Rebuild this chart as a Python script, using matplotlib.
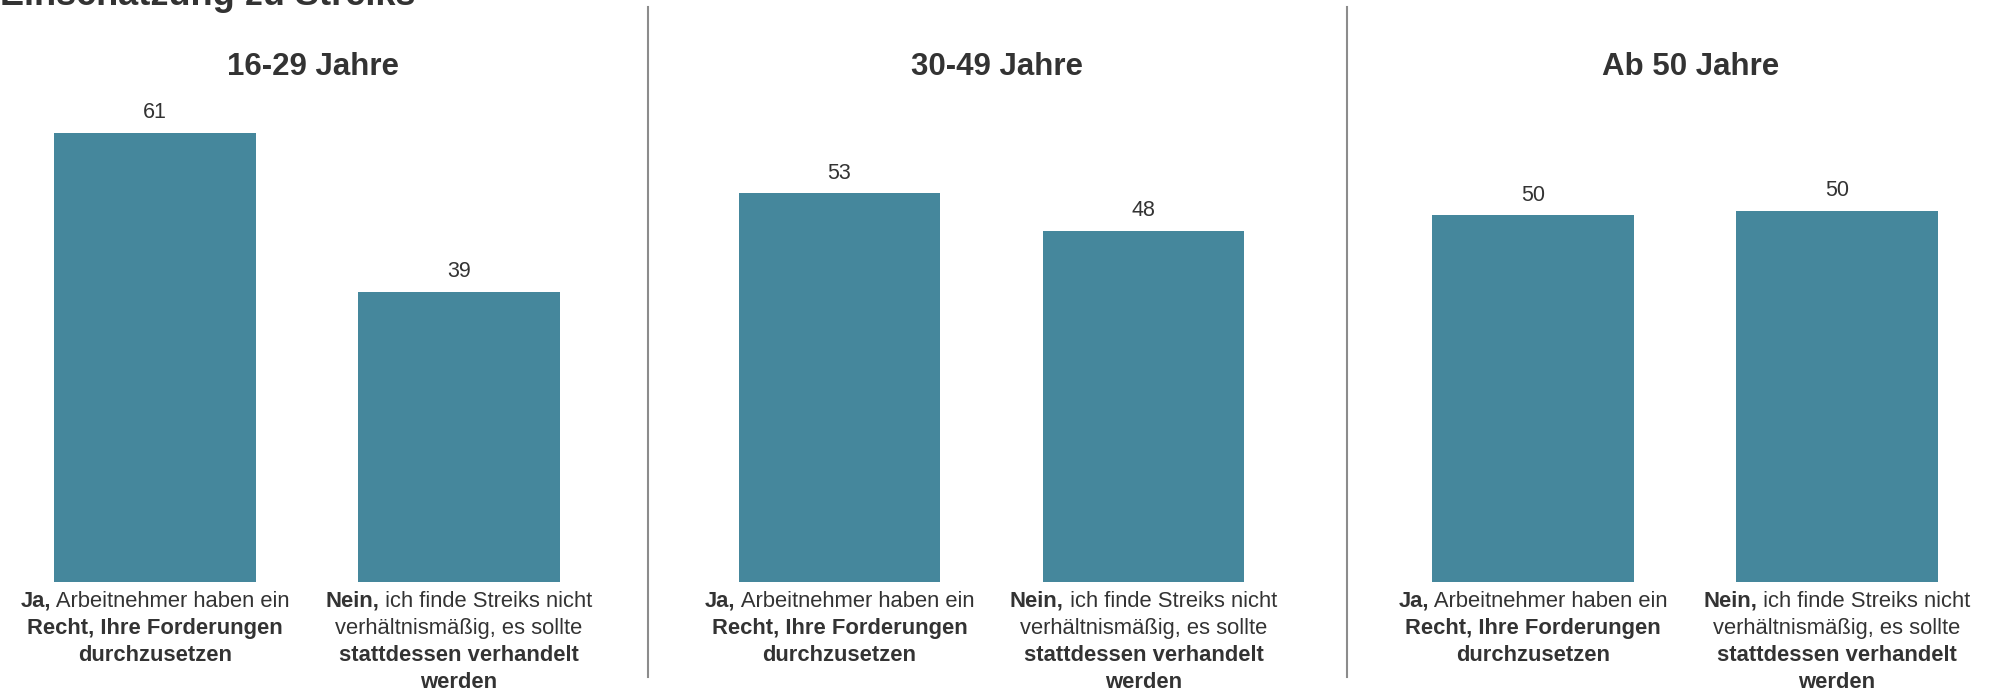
import matplotlib
matplotlib.use("Agg")
import matplotlib.pyplot as plt
import matplotlib.transforms as mtransforms
from matplotlib.lines import Line2D

plt.rcParams["font.family"] = ["Liberation Sans", "DejaVu Sans"]

# ---- data ----
TITLE = "Einschätzung zu Streiks"
age_groups = ["16-29 Jahre", "30-49 Jahre", "Ab 50 Jahre"]
share_ja = [61.0, 52.8, 49.8]
share_nein = [39.4, 47.7, 50.4]

# answer labels: lines made of (text, bold) pieces
label_ja = [
    [("Ja,", True), (" Arbeitnehmer haben ein", False)],
    [("Recht, Ihre Forderungen", True)],
    [("durchzusetzen", True)],
]
label_nein = [
    [("Nein,", True), (" ich finde Streiks nicht", False)],
    [("verhältnismäßig, es sollte", False)],
    [("stattdessen verhandelt", True)],
    [("werden", True)],
]

# ---- style ----
BAR_COLOR = "#45879c"
TEXT_COLOR = "#333333"
LINE_COLOR = "#8c8c8c"
LABEL_SIZE = 15.8
VALUE_SIZE = 15.5
PANEL_TITLE_SIZE = 22.5

W, H = 1993, 692
fig = plt.figure(figsize=(W / 100, H / 100), dpi=100)
renderer = fig.canvas.get_renderer()

panel_left_px = [3, 687.5, 1381]
panel_width_px = 608
bar_bottom_px = 581.7
ymax = 65
axes_height_px = ymax * 7.36


def draw_rich_line(ax, x, dy_pt, pieces):
    """Draw one centred line made of bold / regular pieces below the axes."""
    widths = []
    for txt, bold in pieces:
        t = ax.text(0, 0, txt, fontsize=LABEL_SIZE,
                    fontweight="bold" if bold else "normal")
        widths.append(t.get_window_extent(renderer).width)
        t.remove()
    start = -sum(widths) / 2
    base = mtransforms.blended_transform_factory(ax.transData, ax.transAxes)
    for (txt, bold), w in zip(pieces, widths):
        off = mtransforms.ScaledTranslation(start / fig.dpi, dy_pt / 72,
                                            fig.dpi_scale_trans)
        ax.text(x, 0, txt, transform=base + off, ha="left", va="baseline",
                fontsize=LABEL_SIZE, color=TEXT_COLOR,
                fontweight="bold" if bold else "normal")
        start += w


for i, group in enumerate(age_groups):
    ax = fig.add_axes([panel_left_px[i] / W, (H - bar_bottom_px) / H,
                       panel_width_px / W, axes_height_px / H])
    vals = [share_ja[i], share_nein[i]]
    ax.bar([0, 1], vals, width=0.664, color=BAR_COLOR)
    ax.set_xlim(-0.5, 1.5)
    ax.set_ylim(0, ymax)
    ax.axis("off")

    for x, v in zip([0, 1], vals):
        ax.annotate(f"{v:.0f}", xy=(x, v), xytext=(0, 10.5),
                    textcoords="offset points", ha="center", va="baseline",
                    fontsize=VALUE_SIZE, color=TEXT_COLOR)

    ax.annotate(group, xy=(0.5, 1), xycoords="axes fraction",
                xytext=(4.3, 20.4), textcoords="offset points",
                ha="center", va="baseline", fontsize=PANEL_TITLE_SIZE,
                fontweight="bold", color=TEXT_COLOR)

    for x, lab in zip([0, 1], [label_ja, label_nein]):
        for k, line in enumerate(lab):
            draw_rich_line(ax, x, -(25 + 27 * k) * 0.72, line)

# vertical separators between panels
for xpx in [647.5, 1346.5]:
    fig.add_artist(Line2D([xpx / W, xpx / W], [1 - 7 / H, 1 - 677 / H],
                          transform=fig.transFigure, color=LINE_COLOR, lw=1.5))

# main title sits mostly above the top edge, as in the source image
fig.text(0, 1 - 5 / H, TITLE, ha="left", va="baseline", fontsize=26,
         fontweight="bold", color=TEXT_COLOR)

fig.savefig("out.png", dpi=100, facecolor="white")
